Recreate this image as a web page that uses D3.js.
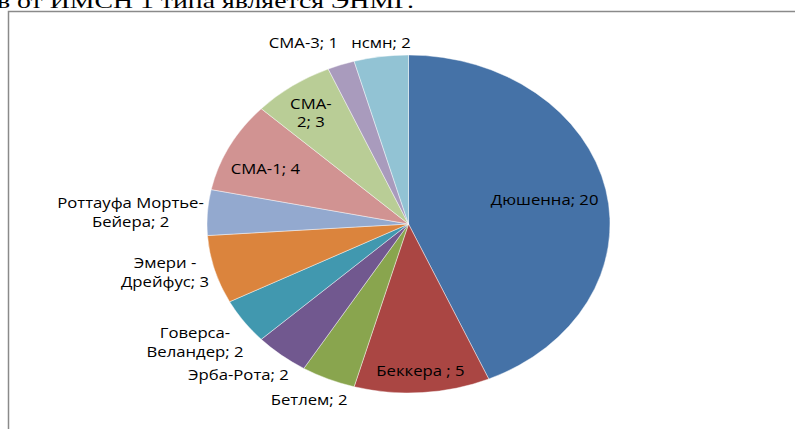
<!DOCTYPE html>
<html>
<head>
<meta charset="utf-8">
<script src="https://cdn.jsdelivr.net/npm/d3@7"></script>
<style>
	html, body { margin: 0; padding: 0; background: #fff; }
	svg { display: block; }
</style>
</head>
<body>
<svg id="chart" width="795" height="429"></svg>
<script>
// data
var categories = ['Дюшенна', 'Беккера ', 'Бетлем', 'Эрба-Рота', 'Говерса-\nВеландер', 'Эмери -\nДрейфус',
	'Роттауфа Мортье-\nБейера', 'СМА-1', 'СМА-\n2', 'СМА-3', 'нсмн'];
var values = [20, 5, 2, 2, 2, 3, 2, 4, 3, 1, 2];
var colors = ['#4572A7', '#AA4643', '#89A54E', '#71588F', '#4198AF', '#DB843D',
	'#93A9CF', '#D19392', '#B9CD96', '#A99BBD', '#92C3D4'];

// label placement: radius factor along the mid angle + small nudge (unscaled px)
var labelRadius = [0.69, 0.87, 1, 1, 1, 1, 1, 0.8, 0.82, 1, 1];
var labelNudge = [[0, 0], [0, 0], [-16, 21], [-36, 20], [-41, 21], [-41.5, 3],
	[-64.5, 0], [0, 7], [-2, 2], [-31.5, -22], [0, -14]];

var headingText = 'в от ИМСН 1 типа является ЭНМГ.';

var svg = d3.select('svg#chart'),
	cx = 408.5,
	cy = 224,
	r = 169,
	kx = 201.5 / 169;

// heading cut off by the page edge
svg.append('text')
	.attr('x', -3)
	.attr('y', 7.5)
	.attr('textLength', 417)
	.attr('lengthAdjust', 'spacingAndGlyphs')
	.style('font', '22px "Liberation Serif", "Times New Roman", serif')
	.attr('fill', '#000')
	.text(headingText);

// frame
svg.append('path')
	.attr('d', 'M8.5,429 V11.5 H795')
	.attr('fill', 'none')
	.attr('stroke', '#8a8a8a')
	.attr('stroke-width', 1.5);

var g = svg.append('g')
	.attr('transform', 'translate(' + cx + ',' + cy + ') scale(' + kx + ',1)');

var pie = d3.pie().sort(null).value(function(d) { return d; });
var arcs = pie(values);

var arc = d3.arc().innerRadius(0).outerRadius(r);

g.selectAll('.slice')
	.data(arcs)
	.enter().append('path')
	.attr('class', 'slice')
	.attr('d', arc)
	.attr('fill', function(d, i) { return colors[i]; })
	.attr('stroke', 'rgba(255,255,255,0.55)')
	.attr('stroke-width', 0.8)
	.attr('vector-effect', 'non-scaling-stroke');

var labels = g.selectAll('.lbl')
	.data(arcs)
	.enter().append('text')
	.attr('class', 'lbl')
	.attr('text-anchor', 'middle')
	.style('font', '14px "Open Sans", sans-serif')
	.attr('fill', '#000')
	.attr('transform', function(d, i) {
		var a = (d.startAngle + d.endAngle) / 2,
			f = labelRadius[i],
			x = Math.sin(a) * r * f + labelNudge[i][0],
			y = -Math.cos(a) * r * f + labelNudge[i][1];
		return 'translate(' + x + ',' + y + ')';
	});

labels.each(function(d, i) {
	var lines = (categories[i] + '; ' + values[i]).split('\n'),
		lh = 18.6,
		t = d3.select(this);
	lines.forEach(function(line, j) {
		t.append('tspan')
			.attr('x', 0)
			.attr('y', (j - (lines.length - 1) / 2) * lh)
			.attr('dy', '0.36em')
			.text(line);
	});
});
</script>
</body>
</html>
